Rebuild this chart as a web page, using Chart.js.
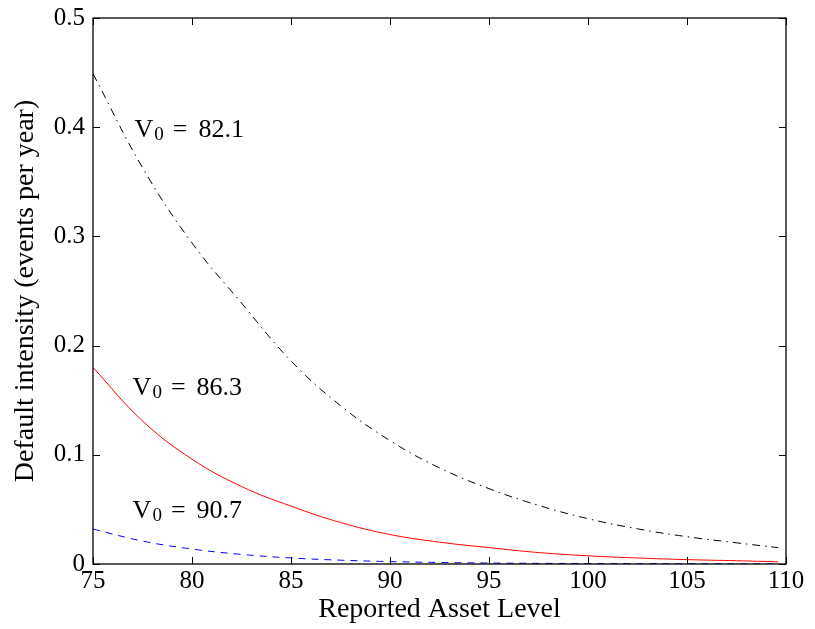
<!DOCTYPE html>
<html>
<head>
<meta charset="utf-8">
<script src="https://cdn.jsdelivr.net/npm/chart.js@4/dist/chart.umd.min.js"></script>
<style>
  html, body { margin: 0; padding: 0; background: #fff; }
  #wrap { width: 815px; height: 629px; }
</style>
</head>
<body>
<div id="wrap"><canvas id="chart"></canvas></div>
<script>
const assetLevels = [75, 77.5, 80, 82.5, 85, 87.5, 90, 92.5, 95, 97.5, 100, 102.5, 105, 107.5, 109.6];
const intensityV821 = [0.449, 0.363, 0.294, 0.239, 0.186, 0.145, 0.113, 0.088, 0.069, 0.0537, 0.0415, 0.0322, 0.025, 0.0194, 0.015];
const intensityV863 = [0.180, 0.131, 0.096, 0.071, 0.053, 0.038, 0.027, 0.020, 0.015, 0.0105, 0.0075, 0.0055, 0.004, 0.003, 0.002];
const intensityV907 = [0.032, 0.021, 0.0137, 0.0088, 0.0055, 0.0035, 0.0022, 0.0014, 0.0009, 0.0006, 0.0004, 0.0003, 0.0002, 0.00015, 0.0001];
const xTicks = [75, 80, 85, 90, 95, 100, 105, 110];
const yTicks = [0, 0.1, 0.2, 0.3, 0.4, 0.5];
const curveLabels = ["82.1", "86.3", "90.7"];

const FONT = "'Liberation Serif', 'Times New Roman', serif";

function toPoints(ys) {
  return assetLevels.map((x, i) => ({ x: x, y: ys[i] }));
}

// box round the plot with inward ticks on all four sides
const frameTicks = {
  id: "frameTicks",
  afterDraw(chart) {
    const { ctx, chartArea: a, scales } = chart;
    const len = 7;
    ctx.save();
    ctx.strokeStyle = "#000";
    ctx.lineWidth = 1;
    ctx.beginPath();
    xTicks.forEach((v) => {
      const px = Math.round(scales.x.getPixelForValue(v)) + 0.5;
      ctx.moveTo(px, a.bottom);
      ctx.lineTo(px, a.bottom - len);
      ctx.moveTo(px, a.top);
      ctx.lineTo(px, a.top + len);
    });
    yTicks.forEach((v) => {
      const py = Math.round(scales.y.getPixelForValue(v)) + 0.5;
      ctx.moveTo(a.left, py);
      ctx.lineTo(a.left + len, py);
      ctx.moveTo(a.right, py);
      ctx.lineTo(a.right - len, py);
    });
    ctx.stroke();
    ctx.lineWidth = 1.3;
    ctx.strokeRect(a.left, a.top, a.right - a.left, a.bottom - a.top);
    ctx.restore();
  },
};

// "V_0 = ..." text next to each curve
const curveText = {
  id: "curveText",
  afterDatasetsDraw(chart, args, opts) {
    const { ctx, scales } = chart;
    ctx.save();
    ctx.fillStyle = "#000";
    ctx.textBaseline = "alphabetic";
    ctx.textAlign = "left";
    opts.items.forEach((it) => {
      let x = scales.x.getPixelForValue(it.x);
      const y = scales.y.getPixelForValue(it.y);
      ctx.font = "26px " + FONT;
      ctx.fillText("V", x, y);
      x += ctx.measureText("V").width + 1;
      ctx.font = "19px " + FONT;
      ctx.fillText("0", x, y + 3);
      x += ctx.measureText("0").width + 9;
      ctx.font = "26px " + FONT;
      ctx.fillText("=", x, y);
      x += ctx.measureText("=").width + 11;
      ctx.fillText(it.text, x, y);
    });
    ctx.restore();
  },
};

new Chart(document.getElementById("chart"), {
  type: "line",
  data: {
    datasets: [
      {
        label: "V0 = 82.1",
        data: toPoints(intensityV821),
        borderColor: "#000000",
        borderWidth: 1,
        borderDash: [8, 5, 1.5, 5],
        pointRadius: 0,
        fill: false,
        tension: 0.4,
      },
      {
        label: "V0 = 86.3",
        data: toPoints(intensityV863),
        borderColor: "#ff0000",
        borderWidth: 1,
        pointRadius: 0,
        fill: false,
        tension: 0.4,
      },
      {
        label: "V0 = 90.7",
        data: toPoints(intensityV907),
        borderColor: "#0000ff",
        borderWidth: 1,
        borderDash: [7, 6],
        pointRadius: 0,
        fill: false,
        tension: 0.4,
      },
    ],
  },
  options: {
    responsive: true,
    maintainAspectRatio: false,
    animation: false,
    layout: { padding: { left: 4, right: 29, top: 18, bottom: 0 } },
    plugins: {
      legend: { display: false },
      tooltip: { enabled: false },
      curveText: {
        items: [
          { text: curveLabels[0], x: 77.1, y: 0.391 },
          { text: curveLabels[1], x: 77.0, y: 0.155 },
          { text: curveLabels[2], x: 77.0, y: 0.042 },
        ],
      },
    },
    scales: {
      x: {
        type: "linear",
        min: 75,
        max: 110,
        afterBuildTicks: (s) => { s.ticks = xTicks.map((v) => ({ value: v })); },
        afterFit: (s) => { s.height = 65; },
        grid: { display: false },
        border: { display: false },
        ticks: { color: "#000", padding: -6, maxRotation: 0, font: { family: FONT, size: 25 } },
        title: {
          display: true,
          text: "Reported Asset Level",
          color: "#000",
          padding: { top: 3, bottom: 3 },
          font: { family: FONT, size: 28 },
        },
      },
      y: {
        type: "linear",
        min: 0,
        max: 0.5,
        afterBuildTicks: (s) => { s.ticks = yTicks.map((v) => ({ value: v })); },
        afterFit: (s) => { s.width = 89; },
        grid: { display: false },
        border: { display: false },
        ticks: { color: "#000", padding: 0, font: { family: FONT, size: 25 } },
        title: {
          display: true,
          text: "Default intensity (events per year)",
          color: "#000",
          padding: { top: 5, bottom: 5 },
          font: { family: FONT, size: 28 },
        },
      },
    },
  },
  plugins: [frameTicks, curveText],
});
</script>
</body>
</html>
